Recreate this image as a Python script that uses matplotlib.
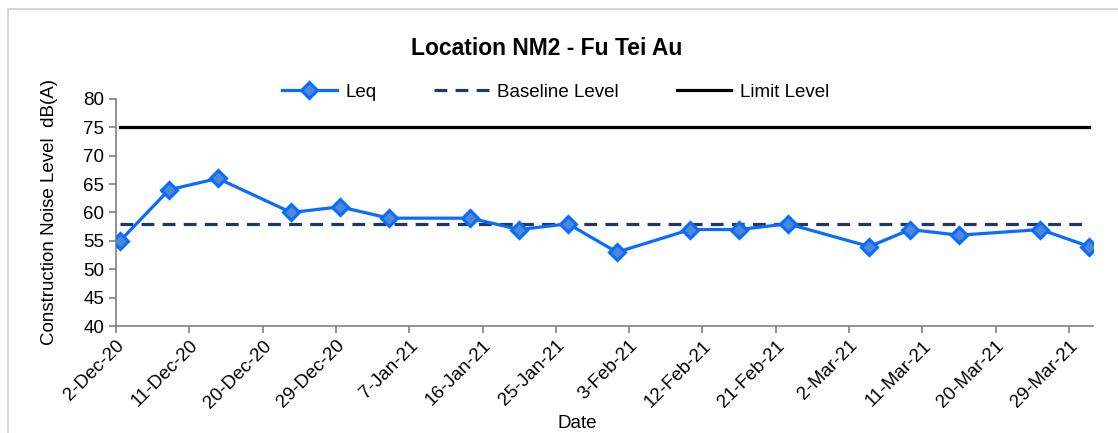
import numpy as np
import pandas as pd
import matplotlib
matplotlib.use('Agg')
import matplotlib.pyplot as plt
import matplotlib.dates as mdates
from matplotlib.patches import Rectangle

plt.rcParams['font.family'] = ['Liberation Sans', 'DejaVu Sans']

# 监测数据
dates = ['2020-12-02', '2020-12-08', '2020-12-14', '2020-12-23', '2020-12-29',
         '2021-01-04', '2021-01-14', '2021-01-20', '2021-01-26', '2021-02-01',
         '2021-02-10', '2021-02-16', '2021-02-22', '2021-03-04', '2021-03-09',
         '2021-03-15', '2021-03-25', '2021-03-31']
leq = [55, 64, 66, 60, 61, 59, 59, 57, 58, 53, 57, 57, 58, 54, 57, 56, 57, 54]
baseline = [58] * len(dates)
limit = [75] * len(dates)

x_start = '2020-12-02'
x_end = '2021-04-01'
tick_dates = pd.date_range('2020-12-02', '2021-03-29', freq='9D')

# Excel puts the point in the middle of the day
x = pd.to_datetime(dates) + pd.Timedelta(hours=12)

fs = 13.5

fig = plt.figure(figsize=(11.18, 4.33), dpi=100)
ax = fig.add_axes([0.1038, 0.2471, 0.978 - 0.1038, 0.7714 - 0.2471])

# chart border
fig.patches.append(Rectangle((8 / 1118, -0.1), 1.2, 1 - 9 / 433 + 0.1,
                             transform=fig.transFigure, fill=False,
                             edgecolor='#d0d0d0', linewidth=1.2))

l1, = ax.plot(x, leq, color='#0a6cff', lw=2.3, marker='D', markersize=8,
              markerfacecolor='#4f86d8', markeredgecolor='#0a6cff',
              markeredgewidth=2.2, label='Leq', zorder=4)
l2, = ax.plot(x, baseline, color='#1f3864', lw=2.3, ls=(0, (4, 2.6)),
              label='Baseline Level', zorder=3)
l3, = ax.plot(x, limit, color='black', lw=2.3, label='Limit Level', zorder=3)

ax.set_xlim(pd.Timestamp(x_start), pd.Timestamp(x_end))
ax.set_ylim(40, 80)
ax.set_yticks(np.arange(40, 81, 5))
ax.set_xticks(tick_dates)
ax.xaxis.set_major_formatter(mdates.DateFormatter('%-d-%b-%y'))
plt.setp(ax.get_xticklabels(), rotation=45, ha='right', rotation_mode='anchor')

for s in ['top', 'right']:
    ax.spines[s].set_visible(False)
for s in ['left', 'bottom']:
    ax.spines[s].set_color('#808080')
    ax.spines[s].set_linewidth(1.2)
ax.tick_params(axis='both', colors='#808080', labelcolor='black',
               labelsize=fs, length=5, width=1.2)
ax.tick_params(axis='x', pad=3)

fig.text(0.489, 0.887, 'Location NM2 - Fu Tei Au', ha='center', va='center',
         fontsize=16.5, fontweight='bold')
fig.text(0.044, 0.51, 'Construction Noise Level  dB(A)', rotation=90,
         ha='center', va='center', fontsize=fs)
fig.text(0.516, 0.023, 'Date', ha='center', va='center', fontsize=fs)

fig.legend(handles=[l1, l2, l3], loc='center', bbox_to_anchor=(0.497, 0.7875),
           ncol=3, frameon=False, fontsize=fs, handlelength=2.9,
           columnspacing=3.1, handletextpad=0.45)

fig.savefig('out.png', dpi=100)
